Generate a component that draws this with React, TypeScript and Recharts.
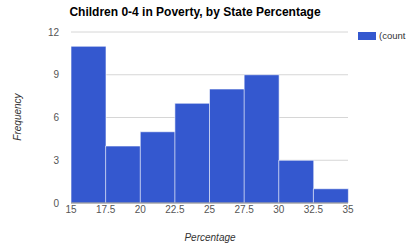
import { BarChart, Bar, XAxis, YAxis, CartesianGrid } from "recharts";

const binStarts = [15, 17.5, 20, 22.5, 25, 27.5, 30, 32.5];
const counts = [11, 4, 5, 7, 8, 9, 3, 1];
const xTicks = ["15", "17.5", "20", "22.5", "25", "27.5", "30", "32.5", "35"];
const yTicks = [0, 3, 6, 9, 12];

const data = binStarts.map((start, i) => ({ bin: String(start), count: counts[i] }));

const font = "Arial, 'Liberation Sans', sans-serif";

// labels sit on the bin edges, not the bin centres
function EdgeTick(props: any) {
  const { x, y, index, payload } = props;
  const half = payload?.offset ?? 0;
  const style = { fill: "#555", fontSize: 10, fontFamily: font };
  return (
    <g>
      <text x={x - half} y={y + 10} textAnchor="middle" {...style}>
        {xTicks[index]}
      </text>
      {index === binStarts.length - 1 && (
        <text x={x + half} y={y + 10} textAnchor="middle" {...style}>
          {xTicks[index + 1]}
        </text>
      )}
    </g>
  );
}

export default function App() {
  return (
    <div style={{ position: "absolute", left: 0, top: 0, width: 406, height: 249, fontFamily: font, overflow: "hidden" }}>
      <BarChart
        width={406}
        height={249}
        data={data}
        barCategoryGap={0}
        margin={{ top: 32, right: 58, left: 0, bottom: 26 }}
      >
        <CartesianGrid horizontal vertical={false} stroke="#d6d6d6" />
        <XAxis
          dataKey="bin"
          height={20}
          tickLine={false}
          axisLine={{ stroke: "#888" }}
          tickSize={0}
          tickMargin={0}
          interval={0}
          tick={<EdgeTick />}
        />
        <YAxis
          width={71}
          domain={[0, 12]}
          ticks={yTicks}
          axisLine={false}
          tickLine={false}
          tickSize={0}
          tickMargin={12}
          tick={{ fill: "#555", fontSize: 10, fontFamily: font }}
        />
        <Bar
          dataKey="count"
          fill="#3458cf"
          stroke="#ffffff"
          strokeOpacity={0.6}
          strokeWidth={1}
          isAnimationActive={false}
        />
      </BarChart>
      <div style={{ position: "absolute", left: 0, width: 390, top: 5, textAlign: "center", fontWeight: "bold", fontSize: 12, color: "#000" }}>
        Children 0-4 in Poverty, by State Percentage
      </div>
      <div style={{ position: "absolute", left: 17, top: 117, transform: "translate(-50%, -50%) rotate(-90deg)", fontStyle: "italic", fontSize: 10, color: "#333", whiteSpace: "nowrap" }}>
        Frequency
      </div>
      <div style={{ position: "absolute", left: 210, top: 237, transform: "translate(-50%, -50%)", fontStyle: "italic", fontSize: 10, color: "#333", whiteSpace: "nowrap" }}>
        Percentage
      </div>
      <div style={{ position: "absolute", left: 358, top: 32, width: 18, height: 8, background: "#3458cf" }} />
      <div style={{ position: "absolute", left: 379, top: 30, fontSize: 9.5, color: "#333", whiteSpace: "nowrap" }}>
        (count
      </div>
    </div>
  );
}
